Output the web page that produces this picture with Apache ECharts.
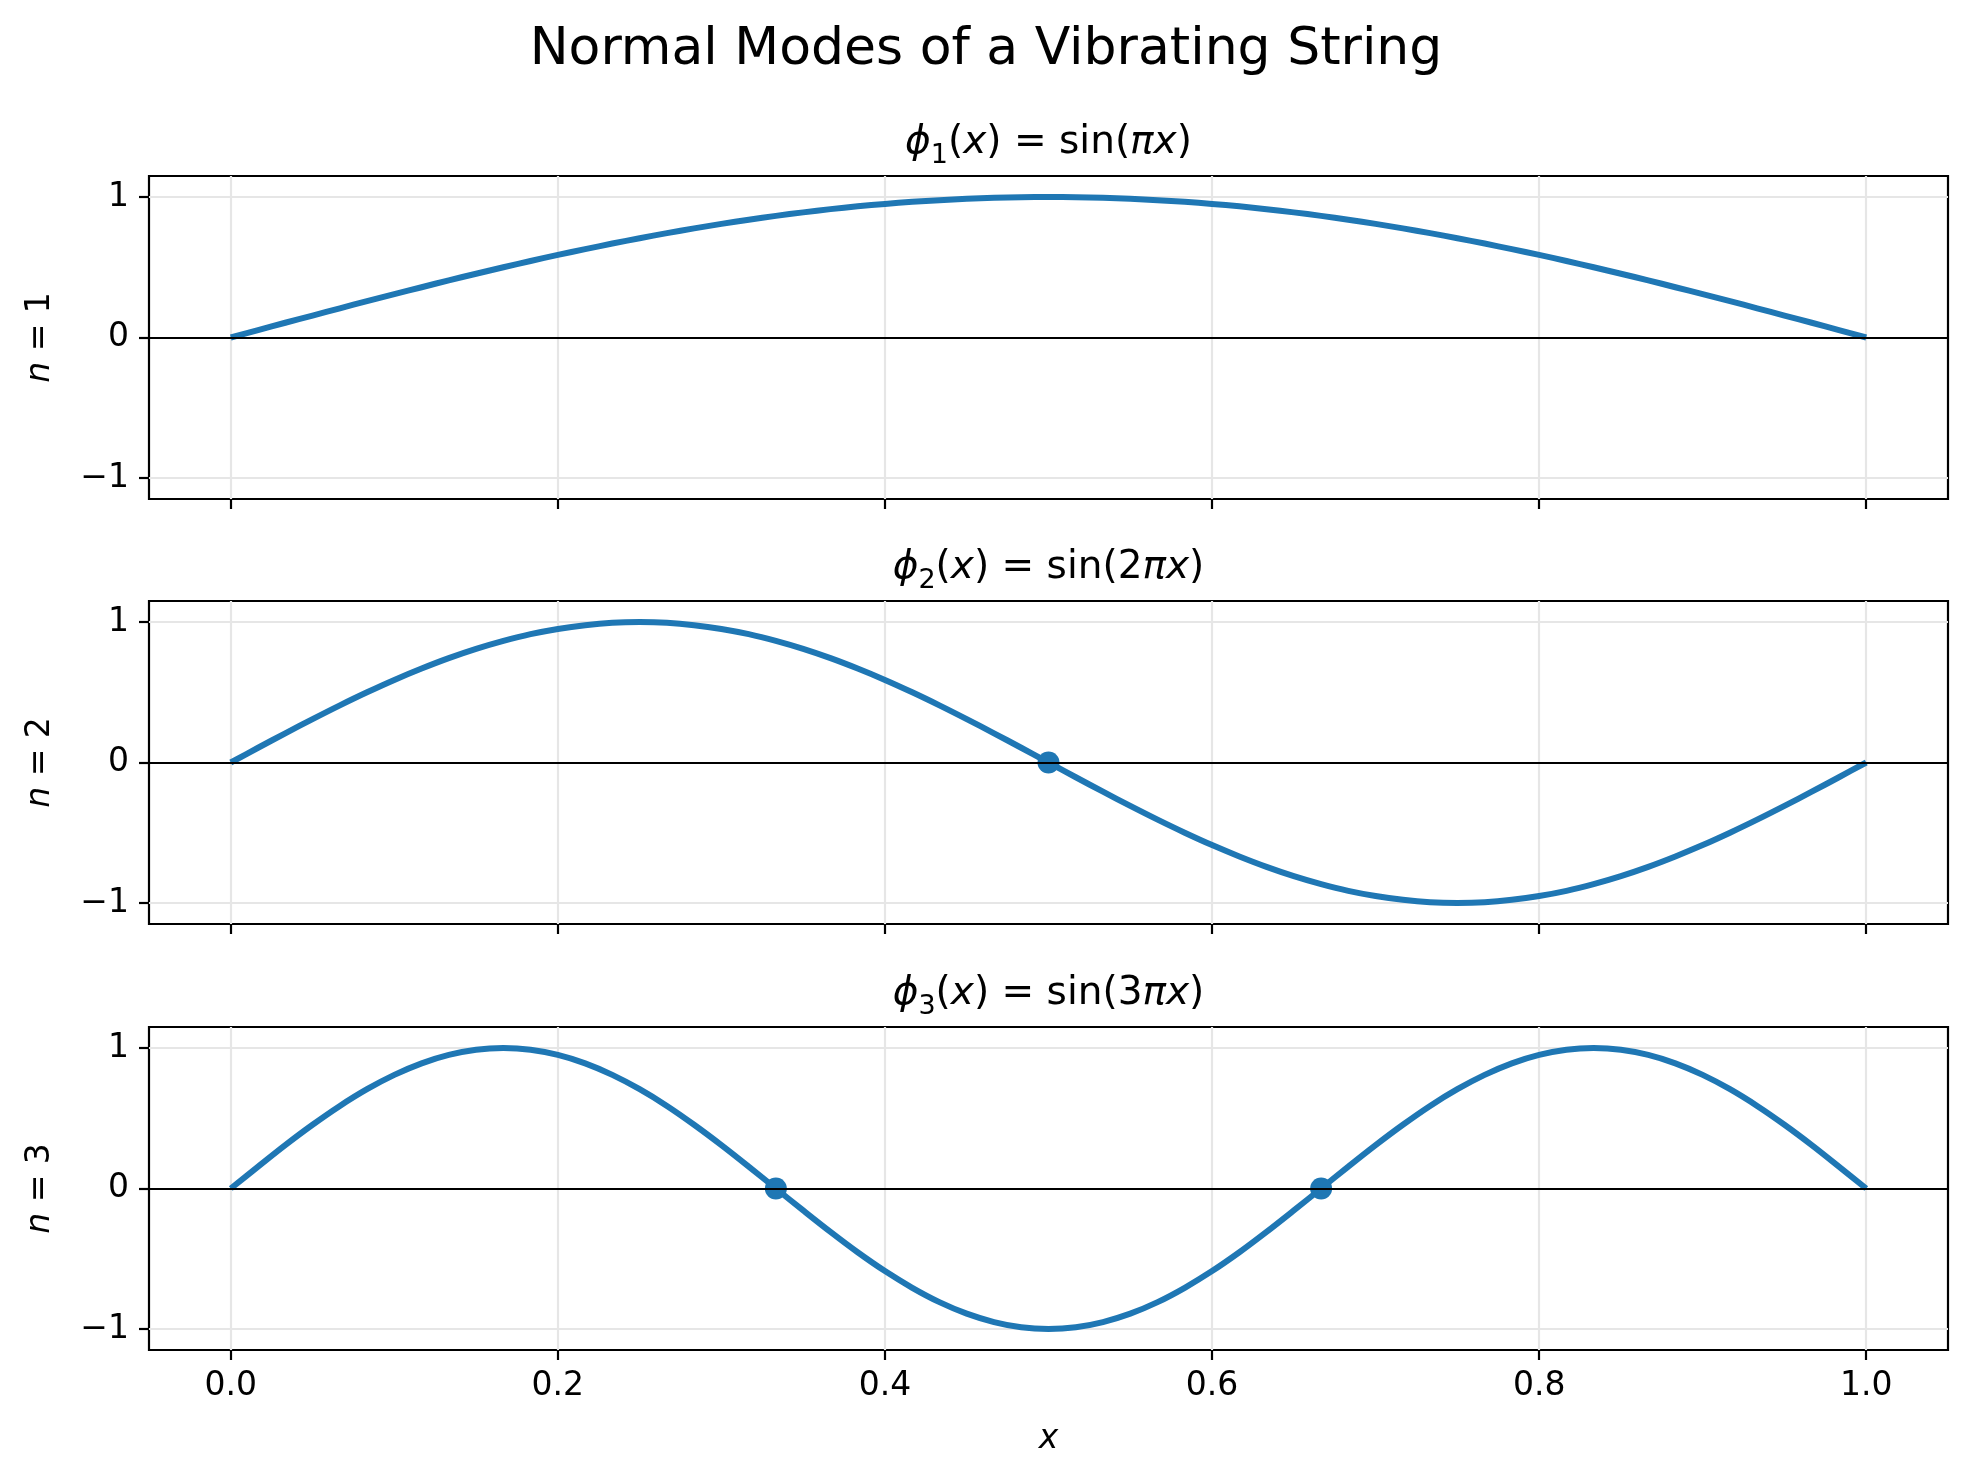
<!DOCTYPE html>
<html>
<head>
<meta charset="utf-8">
<title>Normal Modes of a Vibrating String</title>
<script src="https://cdn.jsdelivr.net/npm/echarts@6/dist/echarts.min.js"></script>
<style>
  html, body { margin: 0; padding: 0; background: #fff; }
  #chart { width: 1972px; height: 1482px; }
</style>
</head>
<body>
<div id="chart"></div>
<script>
// sample positions along the string (every 1/60)
const XS = [0, 0.0167, 0.0333, 0.05, 0.0667, 0.0833, 0.1, 0.1167, 0.1333, 0.15,
  0.1667, 0.1833, 0.2, 0.2167, 0.2333, 0.25, 0.2667, 0.2833, 0.3, 0.3167,
  0.3333, 0.35, 0.3667, 0.3833, 0.4, 0.4167, 0.4333, 0.45, 0.4667, 0.4833,
  0.5, 0.5167, 0.5333, 0.55, 0.5667, 0.5833, 0.6, 0.6167, 0.6333, 0.65,
  0.6667, 0.6833, 0.7, 0.7167, 0.7333, 0.75, 0.7667, 0.7833, 0.8, 0.8167,
  0.8333, 0.85, 0.8667, 0.8833, 0.9, 0.9167, 0.9333, 0.95, 0.9667, 0.9833, 1.0]

// mode shapes n = 1, 2, 3
const MODE1 = [0, 0.052, 0.105, 0.156, 0.208, 0.259, 0.309, 0.358, 0.407, 0.454,
  0.500, 0.545, 0.588, 0.629, 0.669, 0.707, 0.743, 0.777, 0.809, 0.839,
  0.866, 0.891, 0.914, 0.934, 0.951, 0.966, 0.978, 0.988, 0.995, 0.999,
  1.000, 0.999, 0.995, 0.988, 0.978, 0.966, 0.951, 0.934, 0.914, 0.891,
  0.866, 0.839, 0.809, 0.777, 0.743, 0.707, 0.669, 0.629, 0.588, 0.545,
  0.500, 0.454, 0.407, 0.358, 0.309, 0.259, 0.208, 0.156, 0.105, 0.052, 0]
const MODE2 = [0, 0.105, 0.208, 0.309, 0.407, 0.500, 0.588, 0.669, 0.743, 0.809,
  0.866, 0.914, 0.951, 0.978, 0.995, 1.000, 0.995, 0.978, 0.951, 0.914,
  0.866, 0.809, 0.743, 0.669, 0.588, 0.500, 0.407, 0.309, 0.208, 0.105,
  0, -0.105, -0.208, -0.309, -0.407, -0.500, -0.588, -0.669, -0.743, -0.809,
  -0.866, -0.914, -0.951, -0.978, -0.995, -1.000, -0.995, -0.978, -0.951, -0.914,
  -0.866, -0.809, -0.743, -0.669, -0.588, -0.500, -0.407, -0.309, -0.208, -0.105, 0]
const MODE3 = [0, 0.156, 0.309, 0.454, 0.588, 0.707, 0.809, 0.891, 0.951, 0.988,
  1.000, 0.988, 0.951, 0.891, 0.809, 0.707, 0.588, 0.454, 0.309, 0.156,
  0, -0.156, -0.309, -0.454, -0.588, -0.707, -0.809, -0.891, -0.951, -0.988,
  -1.000, -0.988, -0.951, -0.891, -0.809, -0.707, -0.588, -0.454, -0.309, -0.156,
  0, 0.156, 0.309, 0.454, 0.588, 0.707, 0.809, 0.891, 0.951, 0.988,
  1.000, 0.988, 0.951, 0.891, 0.809, 0.707, 0.588, 0.454, 0.309, 0.156, 0]

// interior nodes (marked with dots)
const NODES1 = []
const NODES2 = [0.5]
const NODES3 = [0.3333, 0.6667]

const XTICKS = [0, 0.2, 0.4, 0.6, 0.8, 1.0]
const YTICKS = [-1, 0, 1]
const SUBTITLES = [
  '{i|ϕ}{s|1}({i|x}) = sin({i|πx})',
  '{i|ϕ}{s|2}({i|x}) = sin(2{i|πx})',
  '{i|ϕ}{s|3}({i|x}) = sin(3{i|πx})'
]
const YLABELS = ['{i|n} = 1', '{i|n} = 2', '{i|n} = 3']

const FONT = 'DejaVu Sans'
const BLUE = '#1f77b4'
const TOPS = [176, 601, 1027]
const PLOT_H = 323
const LEFT = 149
const RIGHT = 24

const modes = [MODE1, MODE2, MODE3]
const nodes = [NODES1, NODES2, NODES3]

const chart = echarts.init(document.getElementById('chart'))

const grids = TOPS.map(t => ({
  left: LEFT, right: RIGHT, top: t, height: PLOT_H,
  show: true, borderColor: '#000', borderWidth: 2.2, backgroundColor: '#fff'
}))

const xAxes = TOPS.map((t, i) => ({
  type: 'value', gridIndex: i, min: -0.05, max: 1.05,
  axisLine: { show: false, onZero: false },
  axisTick: { show: true, customValues: XTICKS, length: 10, lineStyle: { color: '#000', width: 2.2 } },
  axisLabel: {
    show: i === 2, customValues: XTICKS, margin: 20,
    color: '#000', fontFamily: FONT, fontSize: 33,
    formatter: v => v.toFixed(1)
  },
  splitLine: { show: true, lineStyle: { color: '#e6e6e6', width: 2.2 } },
  name: i === 2 ? 'x' : '',
  nameLocation: 'middle', nameGap: 73,
  nameTextStyle: { color: '#000', fontFamily: FONT, fontSize: 33, fontStyle: 'italic' }
}))

const yAxes = TOPS.map((t, i) => ({
  type: 'value', gridIndex: i, min: -1.15, max: 1.15,
  axisLine: { show: false, onZero: false },
  axisTick: { show: true, customValues: YTICKS, length: 10, lineStyle: { color: '#000', width: 2.2 } },
  axisLabel: {
    customValues: YTICKS, margin: 20,
    color: '#000', fontFamily: FONT, fontSize: 33,
    formatter: v => String(v).replace('-', '\u2212')
  },
  splitLine: { show: true, lineStyle: { color: '#e6e6e6', width: 2.2 } },
  name: YLABELS[i], nameLocation: 'middle', nameRotate: 90, nameGap: 92,
  nameTextStyle: {
    color: '#000', fontFamily: FONT, fontSize: 33,
    rich: { i: { fontFamily: FONT, fontSize: 33, fontStyle: 'italic', color: '#000' } }
  }
}))

const series = []
modes.forEach((m, i) => {
  series.push({
    type: 'line', xAxisIndex: i, yAxisIndex: i,
    data: XS.map((x, k) => [x, m[k]]),
    smooth: 0.33, showSymbol: false, silent: true,
    lineStyle: { color: BLUE, width: 6, join: 'round' },
    markLine: {
      silent: true, symbol: 'none', label: { show: false },
      lineStyle: { color: '#000', width: 2.2, type: 'solid' },
      data: [{ yAxis: 0 }]
    },
    z: 3
  })
  if (nodes[i].length) {
    series.push({
      type: 'scatter', xAxisIndex: i, yAxisIndex: i,
      data: nodes[i].map(x => [x, 0]),
      symbol: 'circle', symbolSize: 22, silent: true,
      itemStyle: { color: BLUE, opacity: 1 },
      z: 4
    })
  }
})

const graphics = [{
  type: 'text', x: 986, y: 50,
  style: {
    text: 'Normal Modes of a Vibrating String', fill: '#000',
    font: '52px "DejaVu Sans"', align: 'center', verticalAlign: 'middle'
  }
}]
SUBTITLES.forEach((s, i) => {
  graphics.push({
    type: 'text', x: LEFT + (1972 - LEFT - RIGHT) / 2, y: TOPS[i] - 33,
    style: {
      text: s, fill: '#000', fontFamily: FONT, fontSize: 39, lineHeight: 52,
      align: 'center', verticalAlign: 'middle',
      rich: {
        i: { fontFamily: FONT, fontSize: 39, lineHeight: 52, fontStyle: 'italic', fill: '#000' },
        s: { fontFamily: FONT, fontSize: 27, lineHeight: 27, verticalAlign: 'bottom', fill: '#000' }
      }
    }
  })
})

chart.setOption({
  backgroundColor: '#fff',
  animation: false,
  grid: grids,
  xAxis: xAxes,
  yAxis: yAxes,
  series: series,
  graphic: graphics
})
</script>
</body>
</html>
